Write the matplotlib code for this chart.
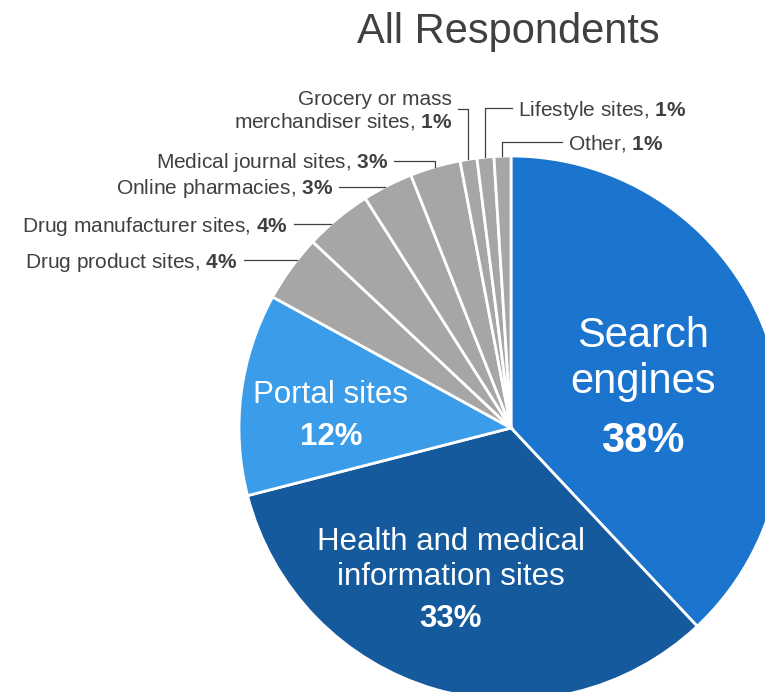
import numpy as np
import matplotlib.pyplot as plt

plt.rcParams['font.family'] = ['Liberation Sans', 'DejaVu Sans']
plt.rcParams['mathtext.fontset'] = 'custom'
plt.rcParams['mathtext.rm'] = 'Liberation Sans'
plt.rcParams['mathtext.bf'] = 'Liberation Sans:bold'

categories = ['Search engines', 'Health and medical information sites', 'Portal sites',
              'Drug product sites', 'Drug manufacturer sites', 'Online pharmacies',
              'Medical journal sites', 'Grocery or mass\nmerchandiser sites',
              'Lifestyle sites', 'Other']
shares = [38, 33, 12, 4, 4, 3, 3, 1, 1, 1]
colors = ['#1b75cf', '#145a9d', '#3b9de9'] + ['#a6a6a6'] * 7

TXT = '#404040'
W, H = 765, 692
fig = plt.figure(figsize=(W / 100, H / 100), dpi=100)
ax = fig.add_axes([0, 0, 1, 1])

# pie laid out in pixel units, y measured from the bottom
cx, cy, r = 511, H - 428, 272
wedges, _ = ax.pie(shares, colors=colors, startangle=90, counterclock=False,
                   center=(cx, cy), radius=r, frame=True,
                   wedgeprops=dict(edgecolor='white', linewidth=2.0))
ax.set_xlim(0, W)
ax.set_ylim(0, H)
ax.set_aspect('equal')
ax.axis('off')

ax.text(508, H - 43, 'All Respondents', ha='center', va='baseline',
        fontsize=30, color=TXT)

# labels inside the three big slices: (slice, x, [(line, baseline)], pct baseline, size)
inner = [
    (0, 643, [('Search', 347), ('engines', 393)], 452, 30),
    (1, 451, [('Health and medical', 550), ('information sites', 585)], 627, 22.5),
    (2, 331, [('Portal sites', 403)], 445, 22.5),
]
for i, x, lines, pb, fs in inner:
    for s, b in lines:
        ax.text(x, H - b, s, ha='center', va='baseline', fontsize=fs, color='white')
    ax.text(x, H - pb, f'{shares[i]}%', ha='center', va='baseline', fontsize=fs,
            color='white', fontweight='bold')

# small slices with leader lines: (slice, kind, text x, leader y)
outer = [
    (3, 'side', 238, 260),
    (4, 'side', 288, 224),
    (5, 'side', 333, 187),
    (6, 'top', 388, 161),
    (7, 'top', 452, 109),
    (8, 'right', 518, 108),
    (9, 'right', 568, 142),
]
gap = 6
for i, kind, tx, ly in outer:
    label = categories[i] + ', ' + r'$\mathbf{' + str(shares[i]) + r'\%}$'
    Y = H - ly
    w = wedges[i]
    th = np.deg2rad((w.theta1 + w.theta2) / 2)
    ex = cx + r * np.cos(th)
    if kind == 'side':
        xe = cx - np.sqrt(r ** 2 - (Y - cy) ** 2)
        ax.plot([tx + gap, xe], [Y, Y], color=TXT, lw=0.9)
    else:
        ye = cy + np.sqrt(r ** 2 - (ex - cx) ** 2)
        x0 = tx + gap if kind == 'top' else tx - gap
        ax.plot([x0, ex, ex], [Y, Y, ye], color=TXT, lw=0.9)
    ha = 'left' if kind == 'right' else 'right'
    ax.text(tx, Y - 2, label, ha=ha, va='center', fontsize=15, color=TXT,
            multialignment='right', linespacing=1.1)

fig.savefig('out.png', dpi=100)
